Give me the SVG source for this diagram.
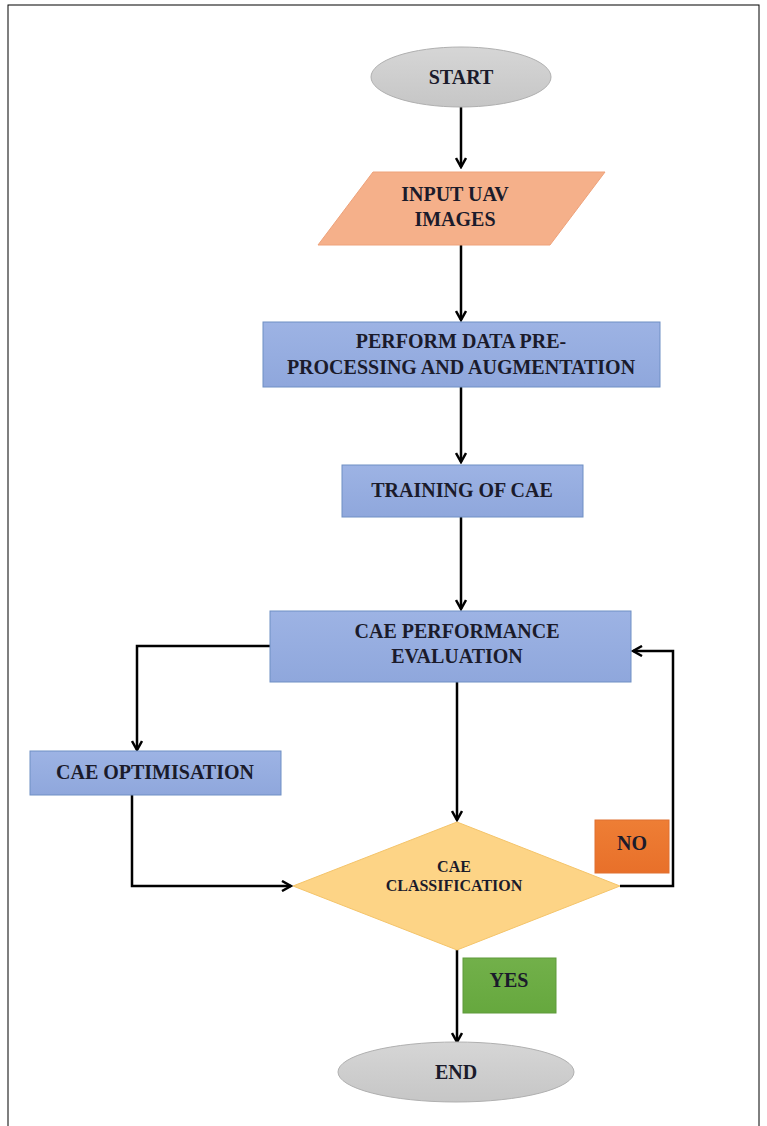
<svg xmlns="http://www.w3.org/2000/svg" width="767" height="1126" viewBox="0 0 767 1126">
<defs>
<style>
.t{font-family:"Liberation Serif","Times New Roman",serif;font-weight:bold;font-size:20px;fill:#1b1b2b;text-anchor:middle}
.c{fill:none;stroke:#000;stroke-width:2.5}
.blue{fill:url(#gb);stroke:#6f8fc4;stroke-width:1}
</style>
<linearGradient id="gg" x1="0" y1="0" x2="0" y2="1"><stop offset="0" stop-color="#d6d6d6"/><stop offset="1" stop-color="#c6c6c6"/></linearGradient>
<linearGradient id="gb" x1="0" y1="0" x2="0" y2="1"><stop offset="0" stop-color="#9db3e4"/><stop offset="1" stop-color="#8fa7dc"/></linearGradient>
<linearGradient id="go" x1="0" y1="0" x2="0" y2="1"><stop offset="0" stop-color="#ee7e35"/><stop offset="1" stop-color="#e8702a"/></linearGradient>
<linearGradient id="ggr" x1="0" y1="0" x2="0" y2="1"><stop offset="0" stop-color="#72b04a"/><stop offset="1" stop-color="#66a83e"/></linearGradient>
<marker id="a" viewBox="0 0 12 12" refX="10" refY="6" markerWidth="12" markerHeight="12" markerUnits="userSpaceOnUse" orient="auto">
<path d="M1,1 L10,6 L1,11" fill="none" stroke="#000" stroke-width="2.5"/>
</marker>
</defs>
<rect x="8" y="5" width="751" height="1130" fill="#fff" stroke="#000" stroke-width="1"/>
<g id="connectors">
<line class="c" x1="461" y1="107" x2="461" y2="167" marker-end="url(#a)"/>
<line class="c" x1="461" y1="245" x2="461" y2="320" marker-end="url(#a)"/>
<line class="c" x1="461" y1="387" x2="461" y2="462" marker-end="url(#a)"/>
<line class="c" x1="461" y1="517" x2="461" y2="609" marker-end="url(#a)"/>
<polyline class="c" points="270,646 137,646 137,750" marker-end="url(#a)"/>
<polyline class="c" points="132,795 132,886 291,886" marker-end="url(#a)"/>
<line class="c" x1="457" y1="682" x2="457" y2="820" marker-end="url(#a)"/>
<polyline class="c" points="620,886 673,886 673,651 633,651" marker-end="url(#a)"/>
<line class="c" x1="457" y1="950" x2="457" y2="1042" marker-end="url(#a)"/>
</g>
<g id="start">
<ellipse cx="461" cy="77" rx="90" ry="30" fill="url(#gg)" stroke="#b0b0b0" stroke-width="1"/>
<text class="t" x="461" y="84">START</text>
</g>
<g id="input">
<polygon points="373,172 605,172 550,245 318,245" fill="#f5b08a" stroke="#eea27a" stroke-width="1"/>
<text class="t" x="455" y="201">INPUT UAV</text>
<text class="t" x="455" y="226">IMAGES</text>
</g>
<g id="preprocess">
<rect class="blue" x="263" y="322" width="397" height="65"/>
<text class="t" x="461" y="348">PERFORM DATA PRE-</text>
<text class="t" x="461" y="374">PROCESSING AND AUGMENTATION</text>
</g>
<g id="training">
<rect class="blue" x="342" y="465" width="241" height="52"/>
<text class="t" x="462" y="497">TRAINING OF CAE</text>
</g>
<g id="evaluation">
<rect class="blue" x="270" y="611" width="361" height="71"/>
<text class="t" x="457" y="638">CAE PERFORMANCE</text>
<text class="t" x="457" y="663">EVALUATION</text>
</g>
<g id="optimisation">
<rect class="blue" x="30" y="751" width="251" height="44"/>
<text class="t" x="155" y="779">CAE OPTIMISATION</text>
</g>
<g id="classification">
<polygon points="457,822 620,886 457,950 293,886" fill="#fdd486" stroke="#f4c46a" stroke-width="1"/>
<text class="t" x="454" y="872" style="font-size:16px">CAE</text>
<text class="t" x="454" y="891" style="font-size:16px">CLASSIFICATION</text>
</g>
<g id="no">
<rect x="595" y="820" width="74" height="53" fill="url(#go)" stroke="#e07030" stroke-width="1"/>
<text class="t" x="632" y="850">NO</text>
</g>
<g id="yes">
<rect x="463" y="958" width="93" height="55" fill="url(#ggr)" stroke="#5e9a3a" stroke-width="1"/>
<text class="t" x="509" y="987">YES</text>
</g>
<g id="end">
<ellipse cx="456" cy="1072" rx="118" ry="30" fill="url(#gg)" stroke="#b0b0b0" stroke-width="1"/>
<text class="t" x="456" y="1079">END</text>
</g>
</svg>
